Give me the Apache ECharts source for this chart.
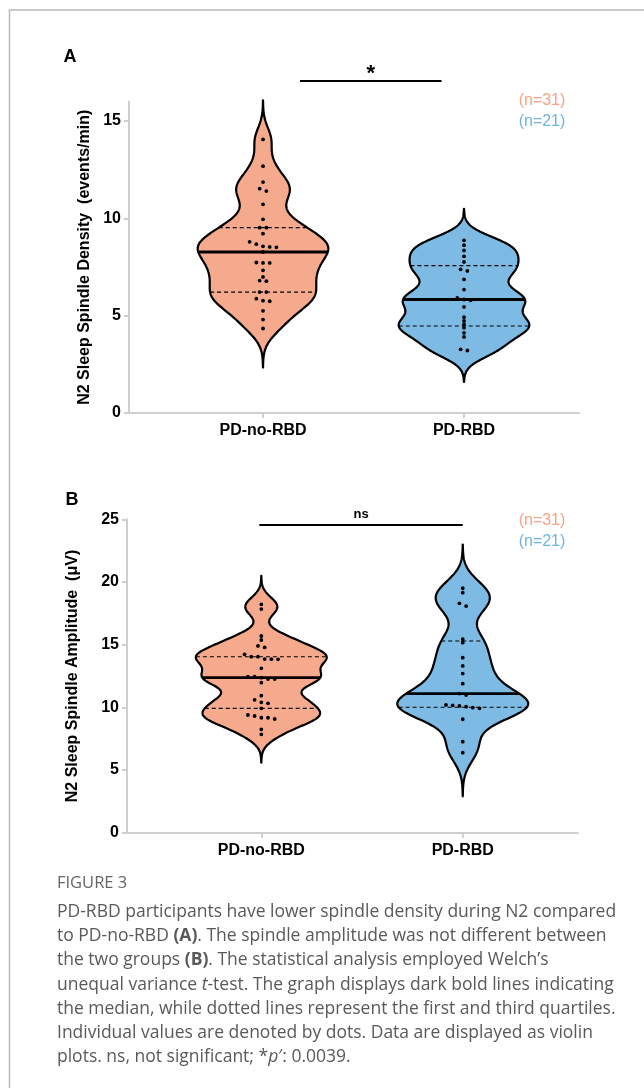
<!DOCTYPE html>
<html><head><meta charset="utf-8">
<script src="https://cdn.jsdelivr.net/npm/echarts@6/dist/echarts.min.js"></script>
<style>html,body{margin:0;padding:0;background:#fff}#c{width:644px;height:1088px}</style>
</head><body><div id="c"></div>
<script>
// ---------- data ----------
const categories = ['PD-no-RBD', 'PD-RBD'];
const densityNoRBD = [14.05, 12.68, 11.86, 11.52, 11.40, 10.72, 9.95, 9.52, 9.52, 9.21, 8.79, 8.67, 8.56, 8.53, 8.51, 8.27, 7.73, 7.71, 7.71, 7.33, 6.99, 6.80, 6.77, 6.21, 6.21, 5.87, 5.77, 5.74, 5.25, 4.80, 4.34];
const densityRBD = [8.87, 8.62, 8.35, 8.05, 7.76, 7.38, 7.30, 6.86, 6.34, 5.91, 5.83, 5.79, 5.45, 4.92, 4.73, 4.55, 4.38, 4.12, 3.91, 3.27, 3.21];
const amplitudeNoRBD = [18.22, 17.84, 15.69, 15.37, 14.90, 14.78, 14.23, 14.04, 14.04, 13.85, 13.84, 13.83, 13.11, 12.45, 12.45, 12.37, 12.26, 12.26, 11.97, 10.93, 10.60, 10.40, 10.32, 9.92, 9.39, 9.31, 9.17, 9.17, 9.07, 8.25, 7.85];
const amplitudeRBD = [19.50, 19.15, 18.30, 18.08, 15.43, 15.16, 13.96, 13.30, 12.69, 11.89, 11.10, 10.98, 10.19, 10.16, 10.11, 10.05, 9.97, 9.92, 9.05, 7.26, 6.38];
const densityTicks = [0, 5, 10, 15];
const amplitudeTicks = [0, 5, 10, 15, 20, 25];
const sigLabels = ['*', 'ns'];
const densityName = 'N2 Sleep Spindle Density  (events/min)';
const amplitudeName = 'N2 Sleep Spindle Amplitude  (\u03BCV)';

// ---------- style ----------
const FILLS = ['#F5A98D', '#7DBBE4'];
const NCOL = ['#F7A386', '#6FB3E0'];
const AXC = '#cfcfcf';
const FONT = 'Liberation Sans, Arial, sans-serif';
const BW_FACTOR = 0.58;
const HALF = 0.325;

function sortedAsc(a) { return [...a].sort((x, y) => x - y); }
function quantile(a, p) {
  const s = sortedAsc(a), n = s.length, pos = (n + 1) * p;
  const lo = Math.floor(pos), fr = pos - lo;
  if (lo < 1) return s[0];
  if (lo >= n) return s[n - 1];
  return s[lo - 1] + fr * (s[lo] - s[lo - 1]);
}
function bandwidth(a) {
  const n = a.length, m = a.reduce((s, v) => s + v, 0) / n;
  const sd = Math.sqrt(a.reduce((s, v) => s + (v - m) * (v - m), 0) / (n - 1));
  const iqr = quantile(a, 0.75) - quantile(a, 0.25);
  return BW_FACTOR * 0.9 * Math.min(sd, iqr / 1.34) * Math.pow(n, -0.2);
}
function prepare(vals, xc) {
  const h = bandwidth(vals);
  const s = sortedAsc(vals);
  const lo = s[0] - 3.2 * h, hi = s[s.length - 1] + 3.2 * h;
  const dens = y => vals.reduce((acc, v) => acc + Math.exp(-0.5 * ((y - v) / h) ** 2), 0);
  const pts = [];
  const N = 260;
  let dmax = 0;
  for (let i = 0; i <= N; i++) {
    const y = lo + (hi - lo) * i / N;
    const d = dens(y);
    dmax = Math.max(dmax, d);
    pts.push([y, d]);
  }
  return {
    vals, xc, pts, dmax,
    w: y => dens(y) / dmax * HALF,
    q1: quantile(vals, 0.25), med: quantile(vals, 0.5), q3: quantile(vals, 0.75)
  };
}

function violinSeries(idx, groups) {
  const prep = groups.map((v, i) => prepare(v, i + 1));
  return {
    type: 'custom', xAxisIndex: idx, yAxisIndex: idx, clip: false, z: 3,
    data: prep.map(p => [p.xc, p.med]),
    renderItem(params, api) {
      const p = prep[params.dataIndex];
      const children = [];
      const right = p.pts.map(([y, d]) => api.coord([p.xc + d / p.dmax * HALF, y]));
      const left = p.pts.slice().reverse().map(([y, d]) => api.coord([p.xc - d / p.dmax * HALF, y]));
      children.push({ type: 'polygon', shape: { points: right.concat(left) },
        style: { fill: FILLS[params.dataIndex], stroke: '#000', lineWidth: 2.2, lineJoin: 'round' } });
      const hline = (y, lw, dash) => {
        const a = api.coord([p.xc - p.w(y), y]), b = api.coord([p.xc + p.w(y), y]);
        children.push({ type: 'line', shape: { x1: a[0], y1: a[1], x2: b[0], y2: b[1] },
          style: { stroke: '#000', lineWidth: lw, lineDash: dash } });
      };
      hline(p.q1, 1.1, [4, 3]);
      hline(p.q3, 1.1, [4, 3]);
      hline(p.med, 2.8, null);
      const items = p.vals.slice().sort((a, b) => b - a).map(v => ({ v, c: api.coord([p.xc, v]) }));
      const rows = [];
      items.forEach(it => {
        const last = rows[rows.length - 1];
        if (last && Math.abs(it.c[1] - last[last.length - 1].c[1]) < 3.2) last.push(it);
        else rows.push([it]);
      });
      rows.forEach(r => r.forEach((it, j) => {
        const dx = (j - (r.length - 1) / 2) * 6.7;
        children.push({ type: 'circle', shape: { cx: it.c[0] + dx, cy: it.c[1], r: 1.9 }, style: { fill: '#000' } });
      }));
      return { type: 'group', children };
    }
  };
}

function sigSeries(idx, x1, x2, y, label, fs, dy, va) {
  return {
    type: 'custom', xAxisIndex: idx, yAxisIndex: idx, clip: false, z: 4,
    data: [[x1, x2, y]],
    renderItem(params, api) {
      const a = api.coord([api.value(0), api.value(2)]);
      const b = api.coord([api.value(1), api.value(2)]);
      return { type: 'group', children: [
        { type: 'line', shape: { x1: a[0], y1: a[1], x2: b[0], y2: b[1] }, style: { stroke: '#000', lineWidth: 2 } },
        { type: 'text', x: (a[0] + b[0]) / 2, y: a[1] - dy,
          style: { text: label, fontSize: fs, fontWeight: 'bold', fontFamily: FONT, fill: '#000', align: 'center', verticalAlign: va } }
      ] };
    }
  };
}

const X_MIN = 0.3333, X_MAX = 2.5721;
function xAxis(idx) {
  return {
    gridIndex: idx, type: 'value', min: X_MIN, max: X_MAX,
    axisLine: { lineStyle: { color: AXC, width: 2 } },
    axisTick: { show: true, customValues: [1, 2], length: 5, lineStyle: { color: AXC, width: 2 } },
    axisLabel: { customValues: [1, 2], formatter: v => categories[Math.round(v) - 1], margin: 10,
      color: '#000', fontWeight: 'bold', fontSize: 16, fontFamily: FONT },
    splitLine: { show: false }
  };
}
function yAxis(idx, max, ticks, name, gap) {
  return {
    gridIndex: idx, type: 'value', min: 0, max: max, interval: 5,
    name: name, nameLocation: 'middle', nameGap: gap,
    nameTextStyle: { color: '#000', fontWeight: 'bold', fontSize: 16, fontFamily: FONT },
    axisLine: { show: true, lineStyle: { color: AXC, width: 2 } },
    axisTick: { show: true, customValues: ticks, length: 5, lineStyle: { color: AXC, width: 2 } },
    axisLabel: { customValues: ticks, margin: 8, color: '#000', fontWeight: 'bold', fontSize: 16, fontFamily: FONT },
    splitLine: { show: false }
  };
}

const capFont = 'Open Sans, sans-serif';
const capLines = [
  '{n|PD-RBD participants have lower spindle density during N2 compared}',
  '{n|to PD-no-RBD }{b|(A)}{n|. The spindle amplitude was not different between}',
  '{n|the two groups }{b|(B)}{n|. The statistical analysis employed Welch\u2019s}',
  '{n|unequal variance }{i|t}{n|-test. The graph displays dark bold lines indicating}',
  '{n|the median, while dotted lines represent the first and third quartiles.}',
  '{n|Individual values are denoted by dots. Data are displayed as violin}',
  '{n|plots. ns, not significant; *}{i|p}{n|\u2032: 0.0039.}'
];
const CAP_FS = 17.5;
const capRich = {
  n: { fontSize: CAP_FS, fontFamily: capFont, fill: '#595959' },
  b: { fontSize: CAP_FS, fontFamily: capFont, fontWeight: 'bold', fill: '#595959' },
  i: { fontSize: CAP_FS, fontFamily: capFont, fontStyle: 'italic', fill: '#595959' }
};

const graphics = [
  { type: 'rect', shape: { x: 9.5, y: 10, width: 700, height: 1200 }, style: { fill: 'none', stroke: '#b8b8b8', lineWidth: 1.5 }, silent: true },
  { type: 'text', x: 70, y: 57, style: { text: 'A', fontSize: 18, fontWeight: 'bold', fontFamily: FONT, fill: '#000', align: 'center', verticalAlign: 'middle' } },
  { type: 'text', x: 72, y: 500, style: { text: 'B', fontSize: 18, fontWeight: 'bold', fontFamily: FONT, fill: '#000', align: 'center', verticalAlign: 'middle' } },
  { type: 'text', x: 542, y: 101, style: { text: '(n=' + densityNoRBD.length + ')', fontSize: 16, fontFamily: FONT, fill: NCOL[0], align: 'center', verticalAlign: 'middle' } },
  { type: 'text', x: 542, y: 121.5, style: { text: '(n=' + densityRBD.length + ')', fontSize: 16, fontFamily: FONT, fill: NCOL[1], align: 'center', verticalAlign: 'middle' } },
  { type: 'text', x: 542, y: 521, style: { text: '(n=' + amplitudeNoRBD.length + ')', fontSize: 16, fontFamily: FONT, fill: NCOL[0], align: 'center', verticalAlign: 'middle' } },
  { type: 'text', x: 542, y: 541.5, style: { text: '(n=' + amplitudeRBD.length + ')', fontSize: 16, fontFamily: FONT, fill: NCOL[1], align: 'center', verticalAlign: 'middle' } },
  { type: 'text', x: 57, y: 883, style: { text: 'FIGURE 3', fontSize: 16.5, fontFamily: capFont, fill: '#666', verticalAlign: 'middle' } }
];
capLines.forEach((t, k) => graphics.push({ type: 'text', x: 57, y: 912 + k * 24.2,
  style: { text: t, rich: capRich, verticalAlign: 'middle' } }));

const chart = echarts.init(document.getElementById('c'), null, { renderer: 'canvas' });
chart.setOption({
  animation: false,
  backgroundColor: '#fff',
  grid: [
    { left: 129, right: 65, top: 101.5, bottom: 675 },
    { left: 127, right: 66, top: 519.3, bottom: 255.3 }
  ],
  xAxis: [xAxis(0), xAxis(1)],
  yAxis: [yAxis(0, 16, densityTicks, densityName, 22), yAxis(1, 25, amplitudeTicks, amplitudeName, 46)],
  series: [
    violinSeries(0, [densityNoRBD, densityRBD]),
    violinSeries(1, [amplitudeNoRBD, amplitudeRBD]),
    sigSeries(0, 1.184, 1.888, 17.05, sigLabels[0], 22, 7, 'middle'),
    sigSeries(1, 0.99, 2.0, 24.55, sigLabels[1], 13, 4, 'bottom')
  ],
  graphic: graphics
});
</script></body></html>
